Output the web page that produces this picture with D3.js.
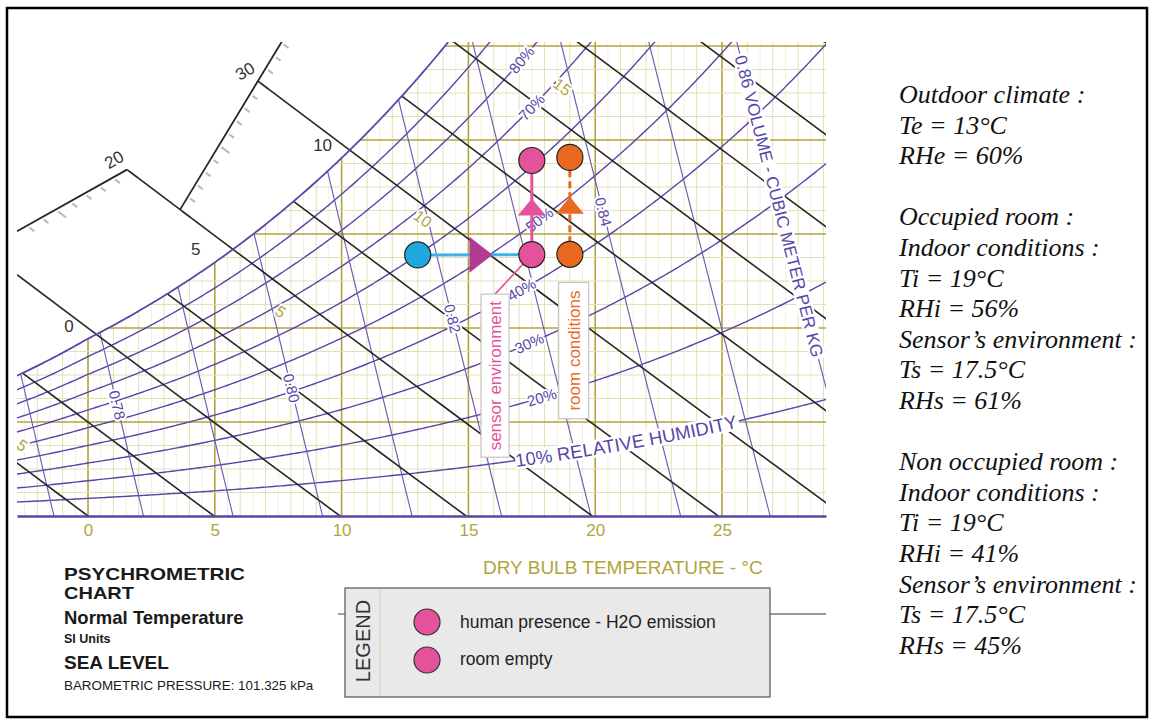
<!DOCTYPE html>
<html>
<head>
<meta charset="utf-8">
<script src="https://cdn.jsdelivr.net/npm/d3@7"></script>
<style>
  body { margin: 0; background: #fff; }
  svg { display: block; font-family: "Liberation Sans", Arial, sans-serif; }
</style>
</head>
<body>
<div id="chart"></div>
<script>
(function(d3) {
    'use strict';

    // Visible part of the chart
    var tMin = -2.8, tMax = 29.1;      // dry bulb, deg C
    var wMax = 10.085;                  // humidity ratio, g/kg

    // Grid and curve levels
    var tempTicks = [0, 5, 10, 15, 20, 25];
    var rhLevels = [10, 20, 30, 40, 50, 60, 70, 80, 90];
    var volumeLevels = [0.77, 0.78, 0.79, 0.80, 0.81, 0.82, 0.83, 0.84, 0.85, 0.86];
    var enthalpyLevels = [0, 5, 10, 15, 20, 25, 30, 35, 40, 45, 50, 55, 60, 65, 70];
    var extendedEnthalpy = [10, 20, 30];

    // Labels
    var satLabelTemps = [0, 5, 10];
    var wbLabelTemps = [-5, 5, 10, 15];
    var wbLabelAt = [-2.6, 7.6, 13.2, 18.7];
    var wbLabelText = ['5', '5', '10', '15'];
    var volLabelLevels = [0.78, 0.80, 0.82, 0.84];
    var volLabelAt = [2.36, 2.72, 4.2, 6.47];
    var rhLabelLevels = [20, 30, 40, 50, 70, 80];
    var rhLabelAt = [17.9, 17.4, 17.1, 17.8, 17.5, 17.1];

    // Enthalpy scale pieces: [enthalpy, dry bulb] at both ends
    var scaleSegA = [[12.3, -2.8], [20, 1.54]];
    var scaleSegB = [[20, 3.63], [33.1, 7.65]];
    var scaleLabels = ['20', '30'];

    // Air states: outdoor, sensor/room (occupied), sensor/room (empty)
    var stateKinds = ['outdoor', 'sensor', 'room', 'sensor', 'room'];
    var stateTemps = [13, 17.5, 19, 17.5, 19];
    var stateRH = [60, 61, 56, 45, 41];

    var legendLabels = ['human presence - H2O emission', 'room empty'];

    var titleLines = ['PSYCHROMETRIC', 'CHART', 'Normal Temperature', 'SI Units', 'SEA LEVEL',
        'BAROMETRIC PRESSURE: 101.325 kPa'];

    var notes = ['Outdoor climate :', 'Te = 13°C', 'RHe = 60%', '',
        'Occupied room :', 'Indoor conditions :', 'Ti = 19°C', 'RHi = 56%',
        'Sensor\u2019s environment :', 'Ts = 17.5°C', 'RHs = 61%', '',
        'Non occupied room :', 'Indoor conditions :', 'Ti = 19°C', 'RHi = 41%',
        'Sensor\u2019s environment :', 'Ts = 17.5°C', 'RHs = 45%'];

    // Colours
    var olive = '#b0a53c', oliveLight = '#e4e0b4', oliveFaint = '#f2f0dc';
    var purple = '#5646a8', blackLine = '#262626';
    var stateColor = { outdoor: '#1fa8de', sensor: '#e3529b', room: '#e8691f' };

    // Psychrometric helpers (sea level)
    var P = 101.325;
    function psat(T) {
        return T >= 0 ? 0.61094 * Math.exp(17.625 * T / (T + 243.04))
                      : 0.61115 * Math.exp(22.452 * T / (T + 272.55));
    }
    function humRatio(T, rh) {
        var pw = rh / 100 * psat(T);
        return 621.945 * pw / (P - pw);
    }
    function enthalpy(T, w) { return 1.006 * T + w / 1000 * (2501 + 1.86 * T); }
    function wOnEnthalpy(h, T) { return 1000 * (h - 1.006 * T) / (2501 + 1.86 * T); }
    function tOnVolume(v, w) { return v * P / (0.287042 * (1 + 1.607858 * w / 1000)) - 273.15; }
    function bisect(f, lo, hi) {
        for (var i = 0; i < 60; i++) {
            var mid = (lo + hi) / 2;
            if (f(lo) * f(mid) <= 0) hi = mid; else lo = mid;
        }
        return (lo + hi) / 2;
    }
    function satTempForH(h) {
        return bisect(function(T) { return enthalpy(T, humRatio(T, 100)) - h; }, -30, 45);
    }

    var svg = d3.select('#chart').append('svg')
        .attr('width', 1155)
        .attr('height', 726);

    var x = d3.scaleLinear().domain([tMin, tMax]).range([17, 826]);
    var y = d3.scaleLinear().domain([0, wMax]).range([516, 42]);
    var line = d3.line().x(function(d) { return x(d[0]); }).y(function(d) { return y(d[1]); });

    // outer frame
    svg.append('rect')
        .attr('x', 7).attr('y', 8).attr('width', 1140).attr('height', 709)
        .attr('fill', 'none').attr('stroke', '#000').attr('stroke-width', 2.5);

    // clip paths
    var tTop = bisect(function(T) { return humRatio(T, 100) - wMax; }, 0, 30);
    var satPts = d3.range(tMin, tTop, 0.1).map(function(T) { return [T, humRatio(T, 100)]; });
    satPts.push([tTop, wMax]);
    var clipPts = [[tMin, 0]].concat(satPts, [[tMax, wMax], [tMax, 0]]);

    var defs = svg.append('defs');
    defs.append('clipPath').attr('id', 'chartClip')
        .append('path').attr('d', line(clipPts) + 'Z');
    defs.append('clipPath').attr('id', 'viewClip')
        .append('rect').attr('x', x(tMin)).attr('y', y(wMax))
        .attr('width', x(tMax) - x(tMin)).attr('height', y(0) - y(wMax));

    var grid = svg.append('g').attr('clip-path', 'url(#chartClip)');

    // faint half-degree lines
    d3.range(-2.5, 29.5, 1).forEach(function(T) {
        grid.append('line').attr('x1', x(T)).attr('x2', x(T)).attr('y1', y(0)).attr('y2', y(wMax))
            .attr('stroke', oliveFaint).attr('stroke-width', 1);
    });
    // dry bulb lines
    d3.range(-2, 30, 1).forEach(function(T) {
        var major = T % 5 === 0;
        grid.append('line').attr('x1', x(T)).attr('x2', x(T)).attr('y1', y(0)).attr('y2', y(wMax))
            .attr('stroke', major ? olive : oliveLight).attr('stroke-width', major ? 1.6 : 1);
    });
    // humidity ratio lines
    d3.range(0.5, 10.5, 0.5).forEach(function(w) {
        var major = w % 2 === 0;
        grid.append('line').attr('x1', x(tMin)).attr('x2', x(tMax)).attr('y1', y(w)).attr('y2', y(w))
            .attr('stroke', major ? olive : oliveLight).attr('stroke-width', major ? 1.6 : 1);
    });

    // relative humidity curves
    var tSamples = d3.range(tMin, tMax + 0.05, 0.1);
    rhLevels.forEach(function(rh) {
        grid.append('path')
            .attr('d', line(tSamples.map(function(T) { return [T, humRatio(T, rh)]; })))
            .attr('fill', 'none').attr('stroke', purple).attr('stroke-width', 1.4);
    });

    // specific volume lines
    var wSamples = d3.range(0, wMax + 0.5, 0.5);
    volumeLevels.forEach(function(v) {
        grid.append('path')
            .attr('d', line(wSamples.map(function(w) { return [tOnVolume(v, w), w]; })))
            .attr('fill', 'none').attr('stroke', '#6a5cb6').attr('stroke-width', 1.1);
    });

    // enthalpy lines inside the chart
    enthalpyLevels.forEach(function(h) {
        var ts = satTempForH(h);
        var te = h / 1.006;
        grid.append('path')
            .attr('d', line(d3.range(0, 11).map(function(i) {
                var T = ts + (te - ts) * i / 10;
                return [T, wOnEnthalpy(h, T)];
            })))
            .attr('fill', 'none').attr('stroke', blackLine).attr('stroke-width', 1.6);
    });

    // ---- outside the saturation curve: enthalpy scale ----
    var outer = svg.append('g').attr('clip-path', 'url(#viewClip)');

    function segPoint(seg, t) {
        var T = seg[0][1] + (seg[1][1] - seg[0][1]) * t;
        var w0 = wOnEnthalpy(seg[0][0], seg[0][1]), w1 = wOnEnthalpy(seg[1][0], seg[1][1]);
        return [T, w0 + (w1 - w0) * t];
    }
    function segAtH(seg, h) {
        var t = bisect(function(t) { var p = segPoint(seg, t); return enthalpy(p[0], p[1]) - h; }, 0, 1);
        return segPoint(seg, t);
    }

    [scaleSegA, scaleSegB].forEach(function(seg) {
        // ticks every kJ/kg
        d3.range(Math.ceil(seg[0][0]), Math.floor(seg[1][0]) + 1).forEach(function(h) {
            var p = segAtH(seg, h);
            var q = [p[0] + 0.5, wOnEnthalpy(h, p[0] + 0.5)];
            var dx = x(q[0]) - x(p[0]), dy = y(q[1]) - y(p[1]);
            var len = Math.sqrt(dx * dx + dy * dy), tl = h % 5 === 0 ? 13 : 9;
            outer.append('line')
                .attr('x1', x(p[0]) + dx / len * 3).attr('y1', y(p[1]) + dy / len * 3)
                .attr('x2', x(p[0]) + dx / len * tl).attr('y2', y(p[1]) + dy / len * tl)
                .attr('stroke', '#b8b8b8').attr('stroke-width', 2);
        });
        outer.append('path')
            .attr('d', line([segPoint(seg, 0), segPoint(seg, 1)]))
            .attr('stroke', blackLine).attr('stroke-width', 1.8).attr('fill', 'none');
    });

    var extEnds = [[tMin, wOnEnthalpy(10, tMin)], segPoint(scaleSegA, 1), segAtH(scaleSegB, 30)];
    extendedEnthalpy.forEach(function(h, i) {
        var ts = satTempForH(h);
        outer.append('path')
            .attr('d', line([extEnds[i], [ts, wOnEnthalpy(h, ts)]]))
            .attr('stroke', blackLine).attr('stroke-width', 1.6).attr('fill', 'none');
    });
    scaleLabels.forEach(function(lab, i) {
        var p = extEnds[i + 1];
        outer.append('text')
            .attr('transform', 'translate(' + (x(p[0]) - 13) + ',' + (y(p[1]) - 10) + ') rotate(-30)')
            .attr('text-anchor', 'middle').attr('dy', '0.35em')
            .attr('font-size', 17).attr('fill', '#333').text(lab);
    });

    // saturation curve
    outer.append('path').attr('d', line(satPts))
        .attr('fill', 'none').attr('stroke', purple).attr('stroke-width', 1.8);

    // saturation temperature labels
    satLabelTemps.forEach(function(T) {
        outer.append('text')
            .attr('x', x(T) - 19).attr('y', y(humRatio(T, 100)) - 13)
            .attr('text-anchor', 'middle').attr('dy', '0.35em')
            .attr('font-size', 17).attr('fill', '#333').text(String(T));
    });

    function halo(sel) {
        return sel.attr('paint-order', 'stroke').attr('stroke', '#fff')
            .attr('stroke-width', 4).attr('stroke-linejoin', 'round');
    }

    // wet bulb labels on enthalpy lines
    wbLabelTemps.forEach(function(wb, i) {
        var h = enthalpy(wb, humRatio(wb, 100));
        var T = wbLabelAt[i], w = wOnEnthalpy(h, T);
        var ang = Math.atan2(y(wOnEnthalpy(h, T + 1)) - y(w), x(T + 1) - x(T)) * 180 / Math.PI;
        halo(outer.append('text'))
            .attr('transform', 'translate(' + x(T) + ',' + y(w) + ') rotate(' + ang + ')')
            .attr('text-anchor', 'middle').attr('dy', '0.35em')
            .attr('font-size', 16).attr('fill', olive).text(wbLabelText[i]);
    });

    // specific volume labels
    volLabelLevels.forEach(function(v, i) {
        var w = volLabelAt[i], T = tOnVolume(v, w);
        var ang = Math.atan2(y(w - 1) - y(w), x(tOnVolume(v, w - 1)) - x(T)) * 180 / Math.PI;
        halo(outer.append('text'))
            .attr('transform', 'translate(' + x(T) + ',' + y(w) + ') rotate(' + ang + ')')
            .attr('text-anchor', 'middle').attr('dy', '0.35em')
            .attr('font-size', 15).attr('fill', purple).text(v.toFixed(2));
    });

    // relative humidity labels
    rhLabelLevels.forEach(function(rh, i) {
        var T = rhLabelAt[i], w = humRatio(T, rh);
        var ang = Math.atan2(y(humRatio(T + 1, rh)) - y(w), x(T + 1) - x(T)) * 180 / Math.PI;
        halo(outer.append('text'))
            .attr('transform', 'translate(' + x(T) + ',' + y(w) + ') rotate(' + ang + ')')
            .attr('text-anchor', 'middle').attr('dy', '0.35em')
            .attr('font-size', 15).attr('fill', purple).text(rh + '%');
    });

    // long labels following their curves, on a white band
    var rh10Path = defs.append('path').attr('id', 'rh10Path')
        .attr('d', line(d3.range(16.85, tMax, 0.1).map(function(T) { return [T, humRatio(T, 10)]; })));
    var vol86Path = defs.append('path').attr('id', 'vol86Path')
        .attr('d', line(d3.range(wMax, -0.01, -0.5).map(function(w) { return [tOnVolume(0.86, w), w]; })));

    function curvedLabel(pathSel, id, offset, size, txt) {
        var band = outer.append('path').attr('fill', 'none').attr('stroke', '#fff')
            .attr('stroke-width', size * 0.95).attr('stroke-linecap', 'butt');
        var t = halo(outer.append('text')).attr('font-size', size).attr('fill', purple)
            .attr('dy', '0.35em');
        t.append('textPath').attr('href', '#' + id).attr('startOffset', offset).text(txt);
        var len = t.node().getComputedTextLength();
        var node = pathSel.node();
        var pts = d3.range(0, 41).map(function(i) {
            var p = node.getPointAtLength(offset - 2 + (len + 4) * i / 40);
            return [p.x, p.y];
        });
        band.attr('d', d3.line()(pts));
    }
    curvedLabel(rh10Path, 'rh10Path', 0, 18.5, '10% RELATIVE HUMIDITY');
    curvedLabel(vol86Path, 'vol86Path', 14, 17, '0.86 VOLUME - CUBIC METER PER KG');

    // dry bulb axis
    var axis = svg.append('g')
        .attr('transform', 'translate(0,' + y(0) + ')')
        .call(d3.axisBottom(x).tickValues(tempTicks).tickSize(0).tickPadding(8));
    axis.select('.domain').attr('stroke', purple).attr('stroke-width', 2.5);
    axis.selectAll('text').attr('font-size', 17).attr('fill', olive)
        .attr('font-family', '"Liberation Sans", Arial, sans-serif');

    svg.append('text').attr('x', 483).attr('y', 574)
        .attr('font-size', 19).attr('fill', olive).text('DRY BULB TEMPERATURE - °C');

    // ---- air states and processes ----
    var states = stateKinds.map(function(k, i) {
        return { kind: k, px: x(stateTemps[i]), py: y(humRatio(stateTemps[i], stateRH[i])) };
    });

    var ann = svg.append('g');

    // annotation boxes
    var boxes = [
        { kind: 'sensor', text: 'sensor environment', t: 16.05, w0: 1.25, w1: 4.72, half: 14 },
        { kind: 'room', text: 'room conditions', t: 19.15, w0: 2.07, w1: 4.97, half: 15 }
    ];
    // connector from sensor box to sensor marker (empty room)
    ann.append('line')
        .attr('x1', x(boxes[0].t)).attr('y1', y(boxes[0].w1))
        .attr('x2', states[3].px).attr('y2', states[3].py)
        .attr('stroke', stateColor.sensor).attr('stroke-width', 1.6);
    boxes.forEach(function(b) {
        var cx = x(b.t), top = y(b.w1), bot = y(b.w0);
        ann.append('rect').attr('x', cx - b.half).attr('y', top)
            .attr('width', b.half * 2).attr('height', bot - top)
            .attr('fill', '#fff').attr('stroke', '#c4c4c4').attr('stroke-width', 1.2);
        ann.append('text')
            .attr('transform', 'translate(' + cx + ',' + ((top + bot) / 2) + ') rotate(-90)')
            .attr('text-anchor', 'middle').attr('dy', '0.35em')
            .attr('font-size', 17).attr('fill', stateColor[b.kind]).text(b.text);
    });

    // outdoor -> sensor (horizontal)
    ann.append('line')
        .attr('x1', states[0].px).attr('y1', states[0].py)
        .attr('x2', states[3].px).attr('y2', states[3].py)
        .attr('stroke', '#3bb4e6').attr('stroke-width', 3);
    var mx = states[0].px + (states[3].px - states[0].px) * 0.55;
    var my = (states[0].py + states[3].py) / 2;
    ann.append('path')
        .attr('d', 'M' + (mx - 11) + ',' + (my - 18) + 'L' + (mx + 12) + ',' + my + 'L' + (mx - 11) + ',' + (my + 18) + 'Z')
        .attr('fill', '#b23c91');

    // empty -> occupied (vertical) for sensor and room
    [[3, 1, 'sensor', null], [4, 2, 'room', '7,4']].forEach(function(pr) {
        var a = states[pr[0]], b = states[pr[1]];
        ann.append('line')
            .attr('x1', a.px).attr('y1', a.py).attr('x2', b.px).attr('y2', b.py)
            .attr('stroke', stateColor[pr[2]]).attr('stroke-width', 3)
            .attr('stroke-dasharray', pr[3]);
        var vx = a.px, vy = (a.py + b.py) / 2;
        ann.append('path')
            .attr('d', 'M' + (vx - 14) + ',' + (vy + 8) + 'L' + vx + ',' + (vy - 9) + 'L' + (vx + 14) + ',' + (vy + 8) + 'Z')
            .attr('fill', stateColor[pr[2]]);
    });

    ann.selectAll('circle.state')
        .data(states)
        .enter()
        .append('circle')
        .attr('class', 'state')
        .attr('cx', function(d) { return d.px; })
        .attr('cy', function(d) { return d.py; })
        .attr('r', 13)
        .attr('fill', function(d) { return stateColor[d.kind]; })
        .attr('stroke', '#222').attr('stroke-width', 1.2);

    // ---- legend ----
    var legend = svg.append('g');
    legend.append('line').attr('x1', 338).attr('x2', 345).attr('y1', 614).attr('y2', 614)
        .attr('stroke', '#444');
    legend.append('line').attr('x1', 770).attr('x2', 826).attr('y1', 614).attr('y2', 614)
        .attr('stroke', '#333').attr('stroke-width', 1.2);
    legend.append('rect').attr('x', 345).attr('y', 588).attr('width', 425).attr('height', 109)
        .attr('fill', '#e9e9e9').attr('stroke', '#555').attr('stroke-width', 1.2);
    legend.append('line').attr('x1', 380).attr('x2', 380).attr('y1', 589).attr('y2', 696)
        .attr('stroke', '#d2d2d2');
    legend.append('text')
        .attr('transform', 'translate(363,641) rotate(-90)')
        .attr('text-anchor', 'middle').attr('dy', '0.35em')
        .attr('font-size', 20).attr('fill', '#333').text('LEGEND');
    legendLabels.forEach(function(lab, i) {
        legend.append('circle').attr('cx', 427).attr('cy', 622 + i * 38).attr('r', 13)
            .attr('fill', stateColor.sensor).attr('stroke', '#333').attr('stroke-width', 1.2);
        legend.append('text').attr('x', 460).attr('y', 628 + i * 37)
            .attr('font-size', 17.5).attr('fill', '#222').text(lab);
    });

    // ---- title block ----
    var headY = [580, 599];
    var headLen = [181, 70];
    titleLines.slice(0, 2).forEach(function(t, i) {
        svg.append('text').attr('x', 64).attr('y', headY[i])
            .attr('font-size', 17).attr('font-weight', 'bold').attr('fill', '#1a1a1a')
            .attr('textLength', headLen[i]).attr('lengthAdjust', 'spacingAndGlyphs')
            .text(t);
    });

    var subY = [624, 643, 669, 690];
    var subSize = [18.5, 12.5, 19, 13.4];
    var subBold = [true, true, true, false];
    titleLines.slice(2).forEach(function(t, i) {
        svg.append('text').attr('x', 64).attr('y', subY[i])
            .attr('font-size', subSize[i])
            .attr('font-weight', subBold[i] ? 'bold' : 'normal')
            .attr('fill', '#1a1a1a').text(t);
    });

    // ---- notes on the right ----
    notes.forEach(function(t, i) {
        if (!t) return;
        svg.append('text').attr('x', 899).attr('y', 103 + i * 30.6)
            .attr('font-family', '"Liberation Serif", "Times New Roman", serif')
            .attr('font-style', 'italic').attr('font-size', 26)
            .attr('fill', '#111').text(t);
    });

})(window.d3);
</script>
</body>
</html>
